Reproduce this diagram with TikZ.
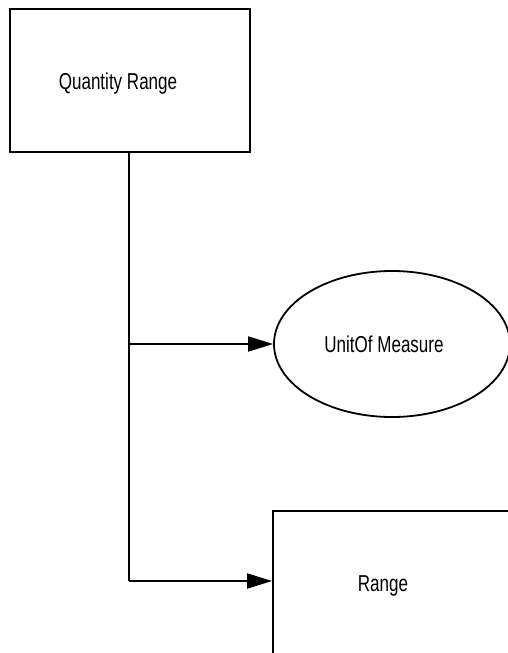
\documentclass[tikz,border=0pt]{standalone}
\usepackage{fontspec}
\setmainfont{Liberation Sans}
\newfontfamily\lblfont[FakeStretch=0.74]{Liberation Sans}
\usetikzlibrary{shapes.geometric,arrows.meta}
\begin{document}
\begin{tikzpicture}[x=1pt,y=-1pt,
  box/.style={draw,line width=1.8pt,rectangle,inner sep=0pt},
  oval/.style={draw,line width=1.8pt,ellipse,inner sep=0pt},
  lbl/.style={font=\lblfont\fontsize{23}{26}\selectfont,inner sep=0pt,anchor=base},
  conn/.style={line width=1.8pt},
  arr/.style={line width=1.8pt,-{Triangle[length=25pt,width=15pt]}}]
\useasboundingbox (0,0) rectangle (508,653);
\clip (0,0) rectangle (508,653);
\node[box,minimum width=240pt,minimum height=143pt] (qr) at (130,80.5) {};
\node[lbl] (qrt) at (118,89) {Quantity Range};
\node[oval,minimum width=236pt,minimum height=146pt] (uom) at (392,344) {};
\node[lbl] (uomt) at (384,352) {UnitOf Measure};
\node[box,minimum width=260pt,minimum height=180pt] (rng) at (403,601) {};
\node[lbl] (rngt) at (383,591) {Range};
\coordinate (j1) at (129,344);
\coordinate (j2) at (129,581);
\draw[conn] (qr.south -| j1) -- (j2);
\draw[arr] (j1) -- (uom.west);
\draw[arr] (j2) -- (j2 -| rng.west);
\end{tikzpicture}
\end{document}
